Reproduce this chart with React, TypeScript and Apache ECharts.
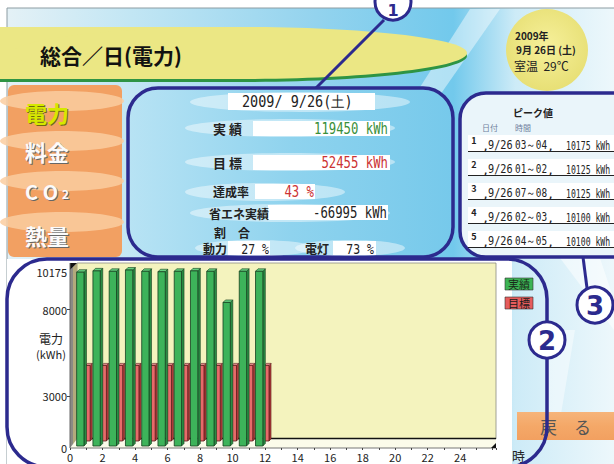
import React, { useEffect, useRef } from 'react';
import * as echarts from 'echarts';

// ---------- data ----------
const slotStarts = [0, 1, 2, 3, 4, 5, 6, 7, 8, 9, 10, 11];
const actualKWh = [10050, 10125, 10100, 10175, 10100, 10075, 10100, 10125, 10100, 8300, 10100, 10100];
const targetKWh = [4371, 4371, 4371, 4371, 4371, 4371, 4371, 4371, 4371, 4372, 4372, 4372];
const yTickValues = [0, 3000, 8000, 10175];
const xTickLabels = [0, 2, 4, 6, 8, 10, 12, 14, 16, 18, 20, 22, 24];
const menuLabels = ['電力', '料金', 'CO2', '熱量'];
const peakRanks = ['1', '2', '3', '4', '5'];
const peakDates = ['9/26', '9/26', '9/26', '9/26', '9/26'];
const peakTimes = ['03～04', '01～02', '07～08', '02～03', '04～05'];
const peakValues = ['10175', '10125', '10125', '10100', '10100'];
const summaryDate = '2009/ 9/26(土)';
const summaryActual = '119450 kWh';
const summaryTarget = '52455 kWh';
const summaryRate = '43 %';
const summarySaving = '-66995 kWh';
const shareMotor = '27 %';
const shareLight = '73 %';
const headerDate = ['2009年', '9月 26日 (土)', '室温  29℃'];

const JP = '"Noto Sans CJK JP", "Noto Sans", sans-serif';
const MONO = '"DejaVu Sans Mono", "Liberation Mono", monospace';
const NAVY = '#2c2a8e';

type O = { fs?: number; ff?: string; fw?: string; fill?: string; align?: string; sx?: number; z?: number; va?: string };
const T = (x: number, y: number, text: string, o: O = {}) => ({
  type: 'text',
  x,
  y,
  z: o.z ?? 6,
  scaleX: o.sx ?? 1,
  style: {
    text,
    fontSize: o.fs ?? 12,
    fontFamily: o.ff ?? JP,
    fontWeight: o.fw ?? 'normal',
    fill: o.fill ?? '#222',
    align: o.align ?? 'left',
    textAlign: o.align ?? 'left',
    verticalAlign: o.va ?? 'middle',
    textVerticalAlign: o.va ?? 'middle',
  },
});

function bar3D(x0f: number, x1f: number, baseShift: number, d: number, fill: string, top: string, side: string, stroke: string) {
  return (params: any, api: any) => {
    const h = api.value(0);
    const v = api.value(1);
    const pL = api.coord([h + x0f, 0]);
    const pR = api.coord([h + x1f, 0]);
    const pT = api.coord([h + x0f, v]);
    const xl = pL[0];
    const xr = pR[0];
    const yb = pL[1] - baseShift;
    const yt = pT[1] - baseShift;
    return {
      type: 'group',
      children: [
        { type: 'polygon', shape: { points: [[xr, yt], [xr + d, yt - d], [xr + d, yb - d], [xr, yb]] }, style: { fill: side, stroke, lineWidth: 0.6 } },
        { type: 'polygon', shape: { points: [[xl, yt], [xl + d, yt - d], [xr + d, yt - d], [xr, yt]] }, style: { fill: top, stroke, lineWidth: 0.6 } },
        { type: 'rect', shape: { x: xl, y: yt, width: xr - xl, height: yb - yt }, style: { fill, stroke, lineWidth: 0.8 } },
      ],
    };
  };
}

export default function App() {
  const ref = useRef<HTMLDivElement>(null);
  useEffect(() => {
    if (!ref.current) return;
    const chart = echarts.init(ref.current, null, { renderer: 'svg' });

    const g: any[] = [];
    // page
    g.push({ type: 'rect', z: 0, shape: { x: 0, y: 0, width: 614, height: 464 }, style: { fill: '#ffffff' } });
    g.push({
      type: 'rect', z: 0, shape: { x: 7, y: 8, width: 620, height: 470 },
      style: {
        fill: new echarts.graphic.LinearGradient(0, 0, 1, 0, [
          { offset: 0, color: '#e4f1f6' }, { offset: 0.2, color: '#c2e6f4' }, { offset: 0.5, color: '#93d3ee' },
          { offset: 0.72, color: '#72c9ec' }, { offset: 0.82, color: '#cdebf7' }, { offset: 1, color: '#f1f9fc' },
        ]),
        stroke: '#8c9ca2', lineWidth: 1,
      },
    });
    // light streaks
    g.push({ type: 'polygon', z: 0, shape: { points: [[470, 9], [500, 9], [440, 95], [415, 95]] }, style: { fill: 'rgba(255,255,255,0.45)' } });
    g.push({ type: 'polygon', z: 0, shape: { points: [[560, 258], [600, 258], [614, 300], [614, 330]] }, style: { fill: 'rgba(255,255,255,0.5)' } });
    g.push({ type: 'polygon', z: 0, shape: { points: [[548, 330], [575, 330], [560, 420], [548, 430]] }, style: { fill: 'rgba(255,255,255,0.45)' } });

    // title banner
    g.push({ type: 'rect', z: 1, shape: { x: -5, y: 30, width: 245, height: 52 }, style: { fill: '#2e9444' } });
    g.push({ type: 'ellipse', z: 1, shape: { cx: 240, cy: 56, rx: 227, ry: 26 }, style: { fill: '#2e9444' } });
    g.push({ type: 'rect', z: 1, shape: { x: -5, y: 27, width: 245, height: 52 }, style: { fill: '#ebe784' } });
    g.push({ type: 'ellipse', z: 1, shape: { cx: 240, cy: 53, rx: 227, ry: 26 }, style: { fill: '#ebe784' } });
    g.push(T(40, 55, '総合／日(電力)', { fs: 21, fw: 'bold', fill: '#111' }));

    // date circle
    g.push({ type: 'circle', z: 1, shape: { cx: 547, cy: 50, r: 41 }, style: { fill: new echarts.graphic.RadialGradient(0.5, 0.45, 0.6, [{ offset: 0, color: '#f6f09a' }, { offset: 1, color: '#e6de72' }]) } });
    g.push(T(515, 35, headerDate[0], { fs: 10, fw: 'bold' }));
    g.push(T(516, 49, headerDate[1], { fs: 10, fw: 'bold' }));
    g.push(T(514, 65, headerDate[2], { fs: 12 }));

    // orange menu
    g.push({ type: 'rect', z: 1, shape: { x: 8, y: 85, width: 114, height: 172, r: 6 }, style: { fill: '#f2a062' } });
    [101, 141, 181, 222].forEach((cy) => g.push({ type: 'ellipse', z: 1, shape: { cx: 62, cy, rx: 62, ry: 10 }, style: { fill: 'rgba(250,205,160,0.85)' } }));
    const menuY = [112, 151, 191, 235];
    menuLabels.forEach((lab, i) => {
      const col = i === 0 ? '#d6e800' : '#fbfbfb';
      if (lab === 'CO2') {
        const rich = (fill: string) => ({
          type: 'text', x: 0, y: 0, z: 6,
          style: {
            text: '{a|C O}{b|2}', fill, verticalAlign: 'middle', textVerticalAlign: 'middle',
            rich: { a: { fontSize: 20, fontWeight: 'bold', fontFamily: JP, fill }, b: { fontSize: 12, fontWeight: 'bold', fontFamily: JP, fill, padding: [4, 0, 0, 4] } },
          },
        });
        g.push({ ...rich('#666'), x: 26, y: menuY[i] + 1 });
        g.push({ ...rich(col), x: 25, y: menuY[i] });
      } else {
        g.push(T(26, menuY[i] + 1, lab, { fs: 22, fw: 'bold', fill: i === 0 ? '#6f6a10' : '#666' }));
        g.push(T(25, menuY[i], lab, { fs: 22, fw: 'bold', fill: col }));
      }
    });

    // panel 1
    g.push({
      type: 'rect', z: 1, shape: { x: 128, y: 88, width: 325, height: 169, r: 30 },
      style: {
        fill: new echarts.graphic.LinearGradient(0, 0, 1, 0, [{ offset: 0, color: '#b8e3f4' }, { offset: 0.5, color: '#8fd3ee' }, { offset: 1, color: '#76c9eb' }]),
        stroke: NAVY, lineWidth: 3.5,
      },
    });
    [[300, 102, 110, 10], [290, 128, 105, 9], [290, 162, 105, 9], [265, 192, 80, 9], [290, 213, 100, 9], [255, 248, 60, 8], [350, 248, 55, 8]].forEach(([cx, cy, rx, ry]) =>
      g.push({ type: 'ellipse', z: 1, shape: { cx, cy, rx, ry }, style: { fill: 'rgba(255,255,255,0.45)' } }),
    );
    const box = (x: number, y: number, w: number, h: number) => g.push({ type: 'rect', z: 2, shape: { x, y, width: w, height: h }, style: { fill: '#ffffff' } });
    box(228, 93, 147, 17);
    box(253, 121, 137, 15);
    box(253, 155, 137, 15);
    box(255, 184, 60, 15);
    box(268, 205, 120, 15);
    box(228, 241, 42, 14);
    box(333, 241, 43, 14);
    g.push(T(242, 102, summaryDate, { fs: 15, ff: MONO, sx: 0.9, fill: '#222' }));
    g.push(T(213, 128, '実 績', { fs: 13, fw: 'bold' }));
    g.push(T(213, 162, '目 標', { fs: 13, fw: 'bold' }));
    g.push(T(213, 191, '達成率', { fs: 12, fw: 'bold' }));
    g.push(T(209, 213, '省エネ実績', { fs: 12, fw: 'bold' }));
    g.push(T(214, 232, '割　合', { fs: 12, fw: 'bold' }));
    g.push(T(203, 248, '動力', { fs: 12, fw: 'bold' }));
    g.push(T(305, 248, '電灯', { fs: 12, fw: 'bold' }));
    g.push(T(388, 129, summaryActual, { fs: 15, ff: MONO, sx: 0.82, fill: '#3a8f3a', align: 'right' }));
    g.push(T(388, 163, summaryTarget, { fs: 15, ff: MONO, sx: 0.82, fill: '#cc3333', align: 'right' }));
    g.push(T(314, 192, summaryRate, { fs: 15, ff: MONO, sx: 0.82, fill: '#cc3333', align: 'right' }));
    g.push(T(387, 213, summarySaving, { fs: 15, ff: MONO, sx: 0.82, fill: '#222', align: 'right' }));
    g.push(T(269, 249, shareMotor, { fs: 14, ff: MONO, sx: 0.82, fill: '#222', align: 'right' }));
    g.push(T(374, 249, shareLight, { fs: 14, ff: MONO, sx: 0.82, fill: '#222', align: 'right' }));

    // panel 3
    g.push({ type: 'rect', z: 1, shape: { x: 460, y: 93, width: 180, height: 164, r: 26 }, style: { fill: '#eaf5fa', stroke: NAVY, lineWidth: 3.5 } });
    g.push(T(533, 112, 'ピーク値', { fs: 10, fw: 'bold', align: 'center' }));
    g.push(T(490, 127, '日付', { fs: 8, fill: '#6f7f9c', align: 'center' }));
    g.push(T(523, 127, '時間', { fs: 8, fill: '#6f7f9c', align: 'center' }));
    const rowY = [145, 169, 193, 217, 241];
    rowY.forEach((y, i) => {
      g.push({ type: 'rect', z: 2, shape: { x: 468, y: y - 10, width: 146, height: 16 }, style: { fill: '#ffffff' } });
      g.push({ type: 'line', z: 3, shape: { x1: 468, y1: y + 6.5, x2: 614, y2: y + 6.5 }, style: { stroke: '#222', lineWidth: 1 } });
      g.push(T(474, y - 5, peakRanks[i], { fs: 9, fw: 'bold', align: 'center' }));
      g.push(T(482, y + 1, ',', { fs: 12, ff: MONO }));
      g.push(T(488, y, peakDates[i], { fs: 12, ff: MONO, sx: 0.85 }));
      g.push(T(515, y, peakTimes[i], { fs: 12, ff: MONO, sx: 0.78 }));
      g.push(T(547, y + 1, ',', { fs: 12, ff: MONO }));
      g.push(T(566, y, peakValues[i] + ' kWh', { fs: 12, ff: MONO, sx: 0.68 }));
    });

    // chart window
    g.push({ type: 'rect', z: 1, shape: { x: 7, y: 259, width: 505, height: 210 }, style: { fill: '#ffffff' } });
    // 3D plot background
    g.push({ type: 'rect', z: 1, shape: { x: 77, y: 263, width: 419, height: 176 }, style: { fill: '#f4f3be', stroke: '#8a8a80', lineWidth: 0.8 } });
    g.push({ type: 'polygon', z: 1, shape: { points: [[77, 439], [496, 439], [496, 448], [70, 448]] }, style: { fill: '#fbfbea' } });
    g.push({ type: 'line', z: 1, shape: { x1: 77, y1: 438.5, x2: 496, y2: 438.5 }, style: { stroke: '#111', lineWidth: 1.3 } });
    g.push({
      type: 'polygon', z: 1, shape: { points: [[70, 270], [77, 263], [77, 439], [70, 448]] },
      style: { fill: new echarts.graphic.LinearGradient(0, 0, 1, 0, [{ offset: 0, color: '#8a8a84' }, { offset: 0.4, color: '#8a8a84' }, { offset: 0.45, color: '#b2aa7c' }, { offset: 1, color: '#b2aa7c' }]) },
    });
    g.push({ type: 'polygon', z: 1, shape: { points: [[70, 263], [77, 263], [70, 270]] }, style: { fill: '#111' } });
    g.push({ type: 'line', z: 1, shape: { x1: 70, y1: 263, x2: 70, y2: 448 }, style: { stroke: '#666', lineWidth: 1 } });
    g.push({ type: 'line', z: 1, shape: { x1: 70, y1: 448, x2: 496, y2: 448 }, style: { stroke: '#777', lineWidth: 1 } });
    g.push({ type: 'polygon', z: 1, shape: { points: [[491, 448], [496, 443], [496, 448]] }, style: { fill: '#111' } });

    // axis name & unit
    g.push(T(51, 338, '電力', { fs: 12, align: 'center' }));
    g.push(T(51, 354, '(kWh)', { fs: 11, align: 'center' }));
    g.push(T(512, 455, '時', { fs: 13 }));

    // legend
    g.push({ type: 'rect', z: 2, shape: { x: 505, y: 278, width: 28, height: 12 }, style: { fill: '#3cb454', stroke: '#333', lineWidth: 0.6 } });
    g.push(T(519, 284, '実績', { fs: 11, align: 'center', fill: '#1a2a1a' }));
    g.push({ type: 'rect', z: 2, shape: { x: 505, y: 297, width: 28, height: 12 }, style: { fill: '#e65c5c', stroke: '#333', lineWidth: 0.6 } });
    g.push(T(519, 303, '目標', { fs: 11, align: 'center', fill: '#1a1a1a' }));

    // back button
    g.push({
      type: 'rect', z: 2, shape: { x: 517, y: 412, width: 100, height: 28 },
      style: { fill: new echarts.graphic.LinearGradient(0, 0, 0, 1, [{ offset: 0, color: '#f6b47a' }, { offset: 0.5, color: '#f4a868' }, { offset: 1, color: '#f2a060' }]) },
    });
    g.push(T(540, 426, '戻　る', { fs: 17, fill: '#555' }));

    // panel 2 border and annotations
    g.push({ type: 'rect', z: 20, shape: { x: 7, y: 259, width: 540, height: 208, r: 40 }, style: { fill: 'none', stroke: NAVY, lineWidth: 3.5 } });
    g.push({ type: 'line', z: 20, shape: { x1: 384, y1: 20, x2: 316, y2: 88 }, style: { stroke: NAVY, lineWidth: 3 } });
    g.push({ type: 'line', z: 20, shape: { x1: 587, y1: 288, x2: 583, y2: 257 }, style: { stroke: NAVY, lineWidth: 3 } });
    const mark = (cx: number, cy: number, t: string, fs: number, ty: number) => {
      g.push({ type: 'circle', z: 21, shape: { cx, cy, r: 18 }, style: { fill: '#ffffff', stroke: NAVY, lineWidth: 3 } });
      g.push(T(cx, ty, t, { fs, fw: 'bold', fill: NAVY, align: 'center', z: 22, ff: '"DejaVu Sans", sans-serif' }));
    };
    mark(393, 2, '1', 16, 10);
    mark(547, 340, '2', 26, 341);
    mark(595, 305, '3', 26, 306);

    chart.setOption({
      animation: false,
      graphic: { elements: g },
      grid: { left: 70, right: 118, top: 272, bottom: 16, show: false },
      xAxis: {
        type: 'value', min: 0, max: 26.2, interval: 2, z: 10,
        axisLine: { show: false },
        axisTick: { show: true, length: 2, lineStyle: { color: '#444' } },
        minorTick: { show: true, splitNumber: 2, length: 2, lineStyle: { color: '#444' } },
        splitLine: { show: false },
        axisLabel: {
          margin: 3, fontSize: 11, color: '#222', fontFamily: JP,
          formatter: (v: number) => (xTickLabels.indexOf(v) >= 0 ? String(v) : ''),
        },
      },
      yAxis: {
        type: 'value', min: 0, max: 10175, z: 10,
        axisLine: { show: false },
        splitLine: { show: false },
        axisTick: { show: true, length: 3, customValues: [3000, 8000], lineStyle: { color: '#444' } },
        axisLabel: {
          customValues: yTickValues, fontSize: 11, color: '#222', margin: 3, fontFamily: JP,
          formatter: (v: number) => String(v),
        },
      },
      series: [
        {
          type: 'custom', z: 5, name: '目標',
          renderItem: bar3D(0.95, 1.24, 7, 2, '#e86a6a', '#f29a9a', '#b03a3a', '#5a1a1a'),
          data: slotStarts.map((h, i) => [h, targetKWh[i]]),
          encode: { x: 0, y: 1 },
        },
        {
          type: 'custom', z: 6, name: '実績',
          renderItem: bar3D(0.41, 0.86, 2, 2.5, '#3db35a', '#66d080', '#2a8c44', '#14401f'),
          data: slotStarts.map((h, i) => [h, actualKWh[i]]),
          encode: { x: 0, y: 1 },
        },
      ],
    });
    return () => chart.dispose();
  }, []);
  return <div ref={ref} style={{ position: 'absolute', left: 0, top: 0, width: 614, height: 464 }} />;
}
